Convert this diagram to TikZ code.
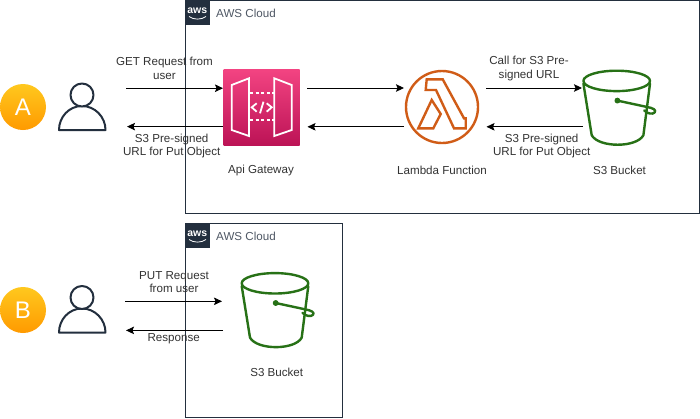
\documentclass[tikz,border=0pt]{standalone}
\usepackage{fontspec}
\setmainfont{Liberation Sans}
\usetikzlibrary{arrows.meta}
\definecolor{awsdark}{HTML}{232F3E}
\definecolor{bucketgreen}{HTML}{277116}
\definecolor{lambdaorange}{HTML}{D05C17}
\definecolor{badgetop}{HTML}{FFC81E}
\definecolor{badgebottom}{HTML}{FF9A00}
\definecolor{apitop}{HTML}{F34482}
\definecolor{apibottom}{HTML}{BC1356}
\tikzset{
  lbl/.style={align=center,inner sep=0pt,text=black!80,font=\fontsize{11.6}{13.8}\selectfont},
  cloudbox/.style={draw=awsdark,line width=1pt},
  cloudtext/.style={anchor=west,inner sep=0pt,text=awsdark!80,font=\fontsize{11.6}{14}\selectfont},
  link/.style={draw=black,line width=0.9pt,-{Stealth[length=8pt,width=7.5pt,inset=1.5pt]}},
  badge/.style={circle,minimum size=46pt,inner sep=0pt,top color=badgetop,bottom color=badgebottom,
    text=white,font=\fontsize{24}{28}\selectfont},
  bucket/.pic={
    \begin{scope}[draw=bucketgreen,line width=2.4pt,line join=round,line cap=round]
      \draw (0,0) ellipse [x radius=33.3,y radius=10.2];
      \draw (-33.3,2.7) -- (-25,54.3) .. controls (-18,67) and (20,67) .. (26.7,54.3) -- (33.3,2.7);
      \draw (0.7,19.7) -- (30,26) .. controls (36,27) and (40,29) .. (38,31.5) .. controls (36,34) and (30,32.5) .. (27.5,29.5);
      \draw[fill=bucketgreen,line width=1pt] (0.7,19.7) circle (2.4);
    \end{scope}},
  person/.pic={
    \begin{scope}[draw=awsdark,line width=2pt,line join=round]
      \draw (-23,35) .. controls (-23,22) and (-13,11) .. (0,11) .. controls (13,11) and (23.5,22) .. (23.5,35) -- cycle;
      \draw[fill=white] (0,0) circle (11.5);
    \end{scope}},
  awslogo/.pic={
    \fill[awsdark] (0,0) rectangle (24.5,24.5);
    \node[text=white,inner sep=0pt,font=\fontsize{10.5}{11}\bfseries\selectfont] at (12.2,10.5) {aws};
    \draw[white,line width=0.8pt] (4,16.5) .. controls (9,20) and (16,20) .. (21,16.5);},
}
\begin{document}
\begin{tikzpicture}[x=1pt,y=-1pt]
\useasboundingbox (0,0) rectangle (700,418);
\fill[white] (0,0) rectangle (700,418);

% cloud boxes
\draw[cloudbox] (185,0.4) rectangle (699,213);
\draw[cloudbox] (185,223.4) rectangle (342,417);
\pic at (185,0) {awslogo};
\pic at (185,223) {awslogo};
\node[cloudtext] (cloudA) at (216,13.3) {AWS Cloud};
\node[cloudtext] (cloudB) at (216,236.3) {AWS Cloud};

% badges
\node[badge] (badgeA) at (23,107) {A};
\node[badge] (badgeB) at (23,310) {B};

% users
\pic at (82,95) {person};
\pic at (82,297.5) {person};

% API gateway
\node[rectangle,minimum size=76pt,inner sep=0pt,top color=apitop,bottom color=apibottom] (api) at (261.5,107) {};
\begin{scope}[draw=white,line width=1.8pt,line join=miter]
  \draw (231.7,85) -- (249,78.3) -- (249,136) -- (231.7,130) -- cycle;
  \draw (274.3,78.3) -- (291.7,85) -- (291.7,130) -- (274.3,136) -- cycle;
  \draw[dash pattern=on 3pt off 2.6pt] (250,93.3) -- (274,93.3);
  \draw[dash pattern=on 3pt off 2.6pt] (250,120) -- (274,120);
  \draw (256.7,103.3) -- (251.7,107.3) -- (256.7,111.7);
  \draw (266.7,103.3) -- (271.7,107.3) -- (266.7,111.7);
  \draw (263.5,101.7) -- (260,113.3);
\end{scope}

% Lambda
\node[circle,draw=lambdaorange,line width=2.4pt,minimum size=72pt,inner sep=0pt] (lambda) at (442,107) {};
\begin{scope}[draw=lambdaorange,line width=2.4pt,line join=miter]
  \draw (426.7,79.3) -- (442.7,79.3) -- (464,118.3) -- (465.7,118.3) -- (465.7,128.3) -- (454,128.3) -- (436,90) -- (425.7,90) -- cycle;
  \draw (431.7,100) -- (418.3,128.3) -- (433.3,128.3) -- (440.7,114) -- cycle;
\end{scope}

% buckets
\pic at (616.7,80.9) {bucket};
\pic at (275,283.3) {bucket};

% connector ends
\coordinate (a1s) at (126,88.2);   \coordinate (a1e) at (223,88.2);
\coordinate (a2s) at (223,126.6);  \coordinate (a2e) at (127,126.6);
\coordinate (a3s) at (307,88);     \coordinate (a3e) at (404,88);
\coordinate (a4s) at (404,126.8);  \coordinate (a4e) at (307.5,126.8);
\coordinate (a5s) at (486,88);     \coordinate (a5e) at (582,88);
\coordinate (a6s) at (583,126.8);  \coordinate (a6e) at (486.5,126.8);
\coordinate (b1s) at (125,301.3);  \coordinate (b1e) at (222,301.3);
\coordinate (b2s) at (223,330.4);  \coordinate (b2e) at (126,330.4);
\foreach \s/\e in {a1s/a1e,a2s/a2e,a3s/a3e,a4s/a4e,a5s/a5e,a6s/a6e,b1s/b1e,b2s/b2e}
  \draw[link] (\s) -- (\e);

% labels
\node[lbl] (l1) at (164.5,68) {GET Request from\\user};
\node[lbl] (l2) at (171.7,146) {S3 Pre-signed\\URL for Put Object};
\node[lbl] (l3) at (261,170.5) {Api Gateway};
\node[lbl] (l4) at (442,170.5) {Lambda Function};
\node[lbl] (l5) at (619.5,170.5) {S3 Bucket};
\node[lbl] (l6) at (529,68.3) {Call for S3 Pre-\\signed URL};
\node[lbl] (l7) at (541.7,146) {S3 Pre-signed\\URL for Put Object};
\node[lbl] (l8) at (174,282) {PUT Request\\from user};
\node[lbl] (l9) at (173.7,338.3) {Response};
\node[lbl] (l10) at (276.7,372.7) {S3 Bucket};
\end{tikzpicture}
\end{document}
